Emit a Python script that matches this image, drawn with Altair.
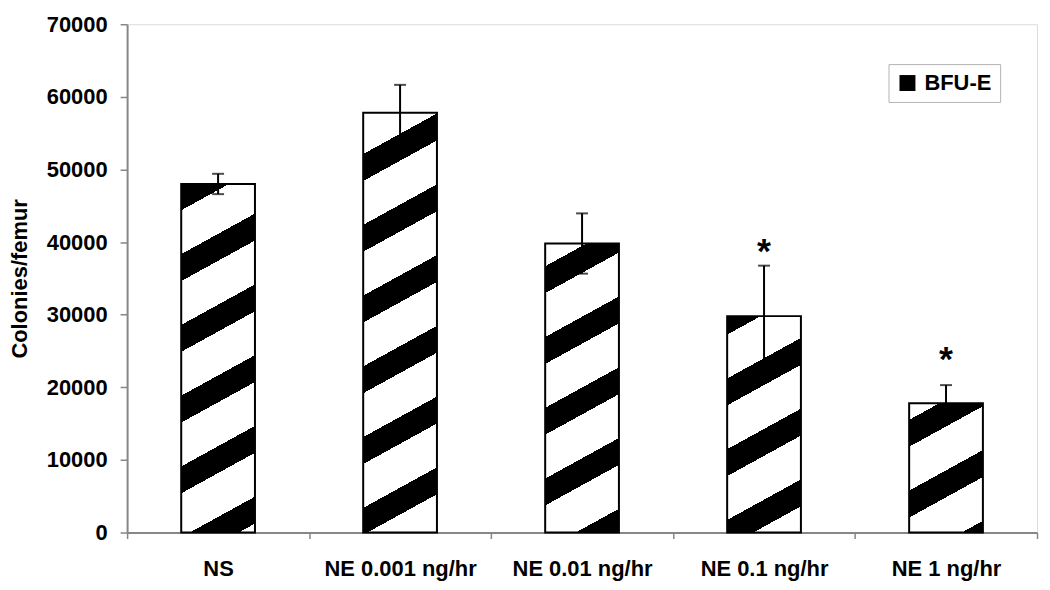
import math
import altair as alt
import pandas as pd

# ---- data ----
categories = ["NS", "NE 0.001 ng/hr", "NE 0.01 ng/hr", "NE 0.1 ng/hr", "NE 1 ng/hr"]
means = [48000, 57800, 39800, 29800, 17800]
errors = [1400, 3850, 4150, 6950, 2500]
stars = ["", "", "", "*", "*"]
star_y = [None, None, None, 39900, 24950]
series_name = "BFU-E"
y_ticks = [0, 10000, 20000, 30000, 40000, 50000, 60000, 70000]

# ---- layout ----
W_PLOT, H_PLOT = 913, 510
Y_MAX = 70000
BAR_W = 74
PAD_L, PAD_T = 119.5, 15.3
ORIGIN_X, ORIGIN_Y = 8 + PAD_L, 8 + PAD_T
FONT = "Liberation Sans"
GRAY = "#878787"

# hatch (diagonal stripe) styling, in pixels
SLOPE, PERIOD, BAND, PHASE = 0.55, 71.0, 27.0, -1.0

df = pd.DataFrame({
    "cat": categories,
    "mean": means,
    "lo": [m - e for m, e in zip(means, errors)],
    "hi": [m + e for m, e in zip(means, errors)],
    "half": [m / 2 for m in means],
    "star": stars,
    "star_y": star_y,
    "series": [series_name] * len(categories),
})


def stripe_gradient(i, v):
    step = W_PLOT / len(categories)
    left = ORIGIN_X + i * step + (step - BAR_W) / 2
    H = v / Y_MAX * H_PLOT
    top = ORIGIN_Y + H_PLOT - H
    L = SLOPE * BAR_W + H
    g = SLOPE * left + top
    stops = [alt.GradientStop(color="white", offset=0)]
    j = math.floor((g - PHASE) / PERIOD) - 1
    while True:
        start = PHASE + j * PERIOD - g
        end = start + BAND
        j += 1
        if end <= 0:
            continue
        if start >= L:
            break
        s0 = max(start, 0) / L
        e0 = min(end, L) / L
        stops += [
            alt.GradientStop(color="white", offset=s0),
            alt.GradientStop(color="black", offset=s0),
            alt.GradientStop(color="black", offset=e0),
            alt.GradientStop(color="white", offset=e0),
        ]
    stops.append(alt.GradientStop(color="white", offset=1))
    c = L / ((SLOPE * BAR_W) ** 2 + H ** 2)
    return alt.LinearGradient(gradient="linear", stops=stops,
                              x1=0, y1=0, x2=c * SLOPE * BAR_W, y2=c * H)


x_axis = alt.Axis(labelAngle=0, tickBand="extent", labelPadding=20, tickSize=6,
                  labelFontSize=22, labelFontWeight="bold", labelColor="black",
                  labelFont=FONT, domainColor=GRAY, domainWidth=2, tickColor=GRAY,
                  tickWidth=1.5, labelLimit=300)
y_axis = alt.Axis(values=y_ticks, format="d", grid=False, tickSize=7, labelPadding=13,
                  labelFontSize=22, labelFontWeight="bold", labelColor="black",
                  labelFont=FONT, domainColor=GRAY, domainWidth=2, tickColor=GRAY,
                  tickWidth=1.5, titleFontSize=22, titleFontWeight="bold",
                  titleColor="black", titleFont=FONT, titleX=-108, titleY=H_PLOT / 2,
                  titleBaseline="middle", titleAlign="center", titleAngle=-90)
x_scale = alt.Scale(paddingInner=0, paddingOuter=0)
y_scale = alt.Scale(domain=[0, Y_MAX], nice=False)


def X():
    return alt.X("cat:N", sort=categories, scale=x_scale, axis=x_axis, title=None)


def Y(field):
    return alt.Y(f"{field}:Q", scale=y_scale, axis=y_axis, title="Colonies/femur")


base = alt.Chart(df)

# hidden squares (covered by the bars) that carry the legend
legend_layer = base.mark_square(size=1, filled=True, opacity=1).encode(
    x=X(), y=Y("half"),
    color=alt.Color("series:N", scale=alt.Scale(range=["black"]),
                    legend=alt.Legend(orient="none", legendX=764, legendY=40, title=None,
                                      symbolType="square", symbolSize=256,
                                      symbolStrokeWidth=0, labelFontSize=22,
                                      labelFontWeight="bold", labelFont=FONT,
                                      labelColor="black", labelOffset=6, padding=8,
                                      strokeColor="#b4b4b4")),
)

bar_layers = []
for i, (cat, v) in enumerate(zip(categories, means)):
    bar_layers.append(
        base.transform_filter(alt.datum.cat == cat)
        .mark_bar(size=BAR_W, fill=stripe_gradient(i, v), stroke="black", strokeWidth=2)
        .encode(x=X(), y=Y("mean"))
    )

err_rule = base.mark_rule(color="black", strokeWidth=2).encode(
    x=X(), y=Y("lo"), y2="hi:Q")
cap_hi = base.mark_tick(color="black", size=12, thickness=2).encode(x=X(), y=Y("hi"))
cap_lo = base.mark_tick(color="black", size=12, thickness=2).encode(x=X(), y=Y("lo"))

star_layer = base.transform_filter(alt.datum.star != "").mark_text(
    fontSize=36, fontWeight="bold", font=FONT, color="black",
    baseline="alphabetic", dy=20).encode(x=X(), y=Y("star_y"), text="star:N")

chart = alt.layer(legend_layer, *bar_layers, err_rule, cap_hi, cap_lo, star_layer).properties(
    width=W_PLOT, height=H_PLOT,
    autosize=alt.AutoSizeParams(type="none"),
    padding={"left": PAD_L, "top": PAD_T, "right": 5, "bottom": 55},
).configure_view(stroke=GRAY, strokeWidth=2).configure(font=FONT, background="white")

chart.save("out.html", embed_options={"renderer": "svg", "actions": False})
